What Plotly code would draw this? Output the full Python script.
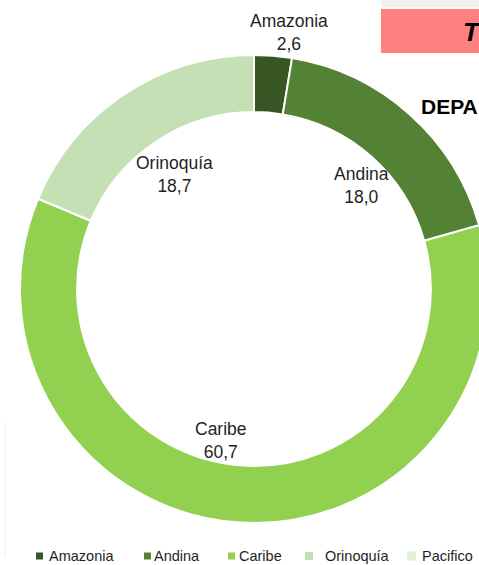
import plotly.graph_objects as go

# ---- data ----
regions = ["Amazonia", "Andina", "Caribe", "Orinoquía", "Pacifico"]
shares = [2.6, 18.0, 60.7, 18.7, 0.0]
colors = ["#375623", "#548235", "#92d050", "#c5e0b4", "#e2efda"]

W, H = 490, 565


def px(x):
    return x / W


def py(y):
    return 1 - y / H


fig = go.Figure()
fig.add_trace(go.Pie(
    labels=regions,
    values=shares,
    sort=False,
    direction="clockwise",
    rotation=0,
    hole=0.756,
    marker=dict(colors=colors, line=dict(color="white", width=2)),
    textinfo="none",
    hoverinfo="label+value",
    showlegend=False,
    domain=dict(x=[px(20), px(488)], y=[py(523), py(55)]),
))

fmt = lambda v: f"{v:.1f}".replace(".", ",")

# data labels (name + value) placed inside the hole, as in the reference
label_pos = {
    "Amazonia": (289, 32),
    "Andina": (361, 185),
    "Orinoquía": (174, 174),
    "Caribe": (221, 441),
}
annotations = []
for name, val in zip(regions, shares):
    if name in label_pos:
        x, y = label_pos[name]
        annotations.append(dict(
            x=px(x), y=py(y), xref="paper", yref="paper",
            text=f"{name}<br>{fmt(val)}", showarrow=False,
            xanchor="center", yanchor="middle",
            font=dict(family="Liberation Sans, Arial", size=17.5, color="#1f1f1f"),
        ))

# manual legend
legend_sq = [(36, 43), (144, 151), (228, 235), (305, 313), (407, 416)]
legend_tx = [47, 152, 237, 323, 420]
shapes = []
for name, col, (x0, x1), tx in zip(regions, colors, legend_sq, legend_tx):
    half = (x1 - x0) / 2
    shapes.append(dict(type="rect", xref="paper", yref="paper",
                       x0=px(x0), x1=px(x1), y0=py(556 + half), y1=py(556 - half),
                       fillcolor=col, line=dict(width=0)))
    annotations.append(dict(
        x=px(tx), y=py(556), xref="paper", yref="paper", text=name,
        showarrow=False, xanchor="left", yanchor="middle",
        font=dict(family="Liberation Sans, Arial", size=14.5, color="#1f1f1f"),
    ))

# cropped neighbouring page elements
shapes.append(dict(type="rect", xref="paper", yref="paper",
                   x0=px(381), x1=1, y0=py(7), y1=1,
                   fillcolor="#f0f0f0", line=dict(width=0)))
shapes.append(dict(type="rect", xref="paper", yref="paper",
                   x0=px(381), x1=1, y0=py(53), y1=py(9),
                   fillcolor="#ff8080", line=dict(width=0)))
shapes.append(dict(type="line", xref="paper", yref="paper",
                   x0=px(5), x1=px(5), y0=py(557), y1=py(422),
                   line=dict(color="#ececec", width=1)))
annotations.append(dict(
    x=px(461), y=py(32), xref="paper", yref="paper", text="<b><i>T</i></b>",
    showarrow=False, xanchor="left", yanchor="middle",
    font=dict(family="Liberation Sans, Arial", size=26, color="black"),
))
annotations.append(dict(
    x=px(419), y=py(107), xref="paper", yref="paper", text="<b>DEPA</b>",
    showarrow=False, xanchor="left", yanchor="middle",
    font=dict(family="Liberation Sans, Arial", size=21, color="black"),
))

fig.update_layout(
    width=W, height=H,
    margin=dict(l=0, r=0, t=0, b=0),
    paper_bgcolor="white",
    plot_bgcolor="white",
    annotations=annotations,
    shapes=shapes,
    showlegend=False,
)

fig.write_html(
    "out.html",
    config={"displayModeBar": False},
    post_script="document.documentElement.style.overflow='hidden';document.body.style.overflow='hidden';document.body.style.margin='0';",
)
